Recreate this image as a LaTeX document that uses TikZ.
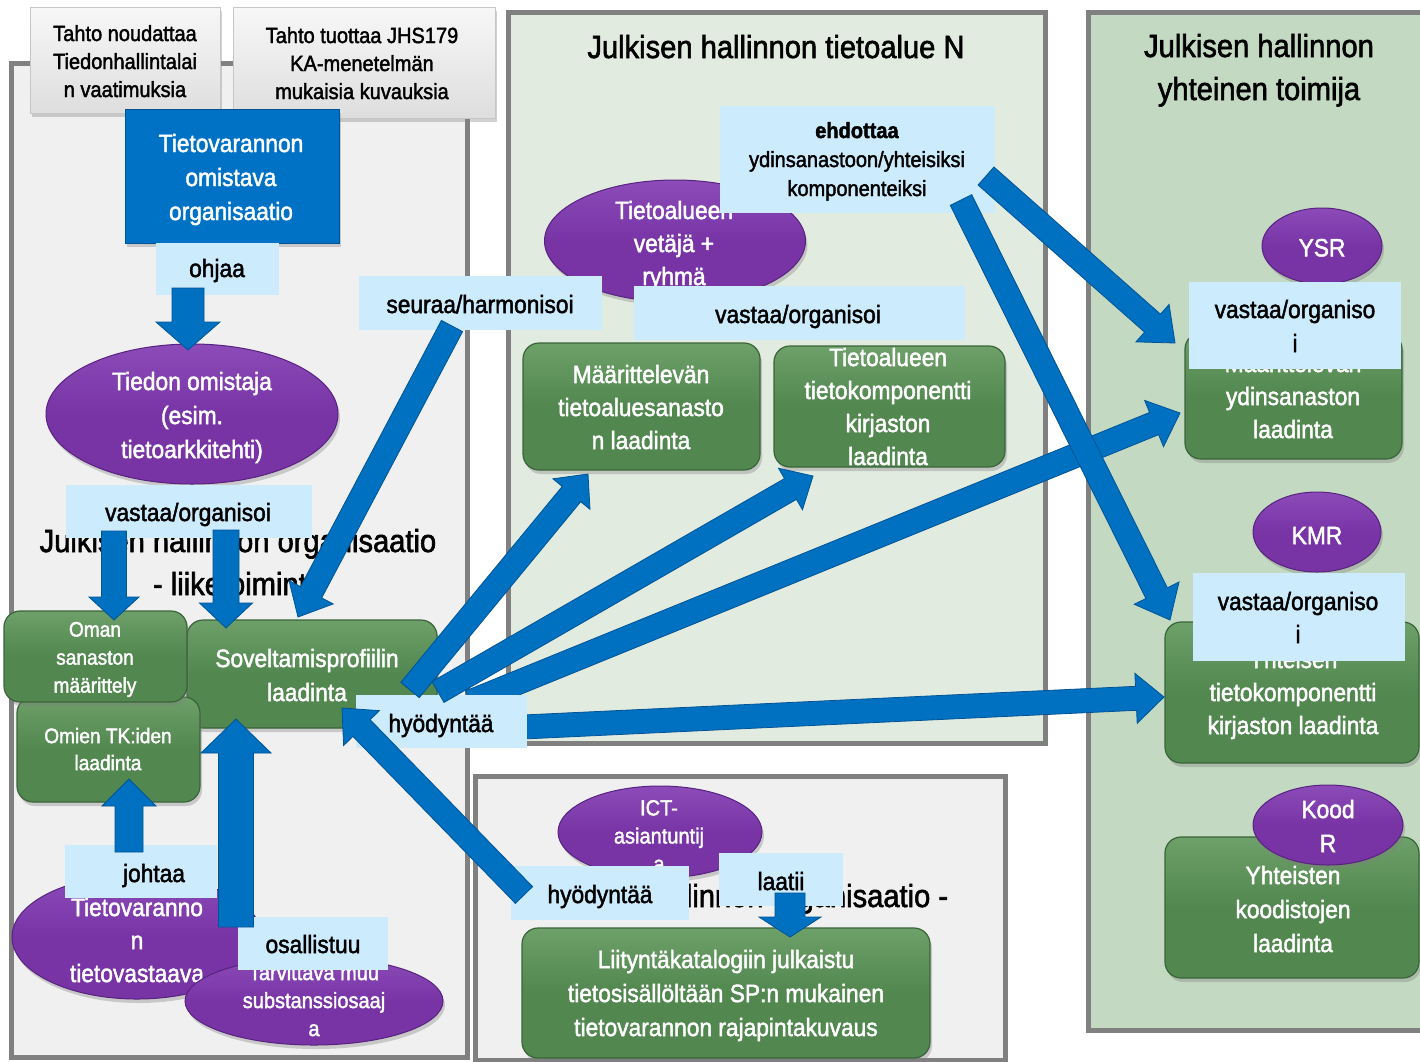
\documentclass[tikz,border=0pt]{standalone}
\usepackage{fontspec}
\setmainfont[FakeStretch=0.91, FakeBold=1.8]{Liberation Sans}
\usetikzlibrary{shapes.geometric,calc,shadows}
\definecolor{panelgray}{RGB}{240,240,240}
\definecolor{panelborder}{RGB}{128,128,128}
\definecolor{midgreen}{RGB}{226,235,224}
\definecolor{rightgreen}{RGB}{195,217,194}
\definecolor{boxgreen}{RGB}{82,135,80}
\definecolor{boxgreenlight}{RGB}{110,160,105}
\definecolor{boxgreendark}{RGB}{58,100,58}
\definecolor{purp}{RGB}{120,52,165}
\definecolor{purplight}{RGB}{140,75,185}
\definecolor{purpdark}{RGB}{88,34,128}
\definecolor{lblue}{RGB}{204,235,252}
\definecolor{arrblue}{RGB}{0,112,192}
\definecolor{arrdark}{RGB}{0,84,150}
\definecolor{orgblue}{RGB}{0,114,198}

\newcommand{\blkarrow}[5]{%
  \coordinate (#1-#2-n) at ($(#2)!#5!(#1)$);
  \filldraw[fill=arrblue, draw=arrdark, line width=0.8pt, line join=miter]
    ($(#1)!#3!90:(#2)$) -- ($(#1-#2-n)!#3!90:(#2)$) -- ($(#1-#2-n)!#4!90:(#2)$)
    -- (#2) -- ($(#1-#2-n)!#4!-90:(#2)$) -- ($(#1-#2-n)!#3!-90:(#2)$)
    -- ($(#1)!#3!-90:(#2)$) -- cycle;
}

\begin{document}
\begin{tikzpicture}[x=1pt,y=-1pt,
  panel/.style={draw=panelborder, line width=5pt},
  ttl/.style={font=\fontsize{32}{43}\selectfont, inner sep=0pt, text=black, anchor=base},
  txt/.style={align=center, inner sep=0pt, anchor=north},
  wt/.style={txt, text=white},
  kt/.style={txt, text=black},
  f25/.style={font=\fontsize{25}{34}\selectfont},
  f25s/.style={font=\fontsize{25}{33}\selectfont},
  f22/.style={font=\fontsize{22}{28}\selectfont},
  f22b/.style={font=\fontsize{22}{29}\selectfont},
  f21/.style={font=\fontsize{21}{28}\selectfont},
  f21s/.style={font=\fontsize{21}{27}\selectfont},
  shad/.style={drop shadow={shadow xshift=2pt, shadow yshift=-4pt, opacity=0.35}},
  gbox/.style={shad, draw=boxgreendark, line width=1.2pt, top color=boxgreenlight, bottom color=boxgreen, middle color=boxgreen, rounded corners=16pt, inner sep=0pt},
  pell/.style={shad, ellipse, draw=purpdark, line width=1pt, top color=purplight, bottom color=purp, middle color=purp, inner sep=0pt},
  lbl/.style={fill=lblue, inner sep=0pt},
  graybox/.style={shad, draw=gray!45, line width=0.8pt, top color=gray!6, bottom color=gray!26, inner sep=0pt},
  bluebox/.style={shad, draw=arrdark, line width=1pt, fill=orgblue, inner sep=0pt},
]
\useasboundingbox (0,0) rectangle (1420,1061);
\fill[white] (0,0) rectangle (1420,1061);

% panels
\draw[panel, fill=panelgray] (11,63) rectangle (467,1057);
\draw[panel, fill=midgreen] (508,12) rectangle (1045,743);
\draw[panel, fill=panelgray] (475,776) rectangle (1005,1060);
\draw[panel, fill=rightgreen] (1088,12) rectangle (1440,1030);

% titles
\node[ttl] (tN) at (776,58) {Julkisen hallinnon tietoalue N};
\node[ttl] (tR1) at (1259,57) {Julkisen hallinnon};
\node[ttl] (tR2) at (1259,100) {yhteinen toimija};
\node[ttl] (tL1) at (238,552) {Julkisen hallinnon organisaatio};
\node[ttl] (tL2) at (238,595) {- liiketoiminta};
\node[ttl] (tB1) at (741,907) {Julkisen hallinnon organisaatio -};

% top boxes
\node[graybox, minimum width=190, minimum height=106] (tahto1) at (125,60) {};
\node[kt,f22] (tahto1T) at (125,24.9) {Tahto noudattaa\\Tiedonhallintalai\\n vaatimuksia};
\node[graybox, minimum width=262, minimum height=111] (tahto2) at (364,62.5) {};
\node[kt,f22] (tahto2T) at (362,26.9) {Tahto tuottaa JHS179\\KA-menetelmän\\mukaisia kuvauksia};
\node[bluebox, minimum width=214, minimum height=134] (org) at (232,176) {};
\node[wt,f25] (orgT) at (231,133.7) {Tietovarannon\\omistava\\organisaatio};

% left panel shapes
\node[pell, minimum width=292, minimum height=140] (omist) at (192,414) {};
\node[wt,f25] (omistT) at (192,371.7) {Tiedon omistaja\\(esim.\\tietoarkkitehti)};
\node[gbox, minimum width=250, minimum height=108] (sovelt) at (312,674) {};
\node[wt,f25] (soveltT) at (307,648.7) {Soveltamisprofiilin\\laadinta};
\node[gbox, minimum width=183, minimum height=105] (omien) at (108.5,749.5) {};
\node[wt,f21s] (omienT) at (108,727.7) {Omien TK:iden\\laadinta};
\node[gbox, minimum width=183, minimum height=91] (oman) at (95.5,656.5) {};
\node[wt,f21] (omanT) at (95,621.7) {Oman\\sanaston\\määrittely};
\node[pell, minimum width=250, minimum height=124] (tvast) at (137,937) {};
\node[wt,f25s] (tvastT) at (137,897.7) {Tietovaranno\\n\\tietovastaava};
\node[pell, minimum width=258, minimum height=88] (subst) at (314,1001) {};
\node[wt,f22] (substT) at (314,963.9) {Tarvittava muu\\substanssiosaaj\\a};

% middle panel shapes
\node[pell, minimum width=261, minimum height=122] (vetaja) at (675,241) {};
\node[wt,f25s] (vetajaT) at (674,200.7) {Tietoalueen\\vetäjä +\\ryhmä};
\node[gbox, minimum width=237, minimum height=127] (maar) at (641.5,406.5) {};
\node[wt,f25s] (maarT) at (641,364.7) {Määrittelevän\\tietoaluesanasto\\n laadinta};
\node[gbox, minimum width=231, minimum height=121] (tietoal) at (889.5,406.5) {};
\node[wt,f25s] (tietoalT) at (888,347.7) {Tietoalueen\\tietokomponentti\\kirjaston\\laadinta};

% bottom middle shapes
\node[pell, minimum width=204, minimum height=92] (ict) at (660,832) {};
\node[wt,f22] (ictT) at (659,799.9) {ICT-\\asiantuntij\\a};
\node[gbox, minimum width=408, minimum height=130] (liit) at (726,993) {};
\node[wt,f25] (liitT) at (726,949.7) {Liityntäkatalogiin julkaistu\\tietosisällöltään SP:n mukainen\\tietovarannon rajapintakuvaus};

% right panel shapes
\node[pell, minimum width=120, minimum height=76] (ysr) at (1322,246) {};
\node[wt,f25] (ysrT) at (1322,238.7) {YSR};
\node[gbox, minimum width=217, minimum height=126] (ydin) at (1293.5,396) {};
\node[wt,f25s] (ydinT) at (1293,353.7) {Määrittelevän\\ydinsanaston\\laadinta};
\node[pell, minimum width=128, minimum height=80] (kmr) at (1317,532) {};
\node[wt,f25] (kmrT) at (1317,526.7) {KMR};
\node[gbox, minimum width=254, minimum height=141] (yht) at (1292,692.5) {};
\node[wt,f25s] (yhtT) at (1293,649.7) {Yhteisen\\tietokomponentti\\kirjaston laadinta};
\node[gbox, minimum width=254, minimum height=141] (koodisto) at (1292,907.5) {};
\node[wt,f25] (koodistoT) at (1293,865.7) {Yhteisten\\koodistojen\\laadinta};
\node[pell, minimum width=150, minimum height=80] (koodr) at (1328,825) {};
\node[wt,f25] (koodrT) at (1328,799.7) {Kood\\R};

% labels
\node[lbl, minimum width=123, minimum height=52] (ohjaa) at (217.5,269) {};
\node[kt,f25] (ohjaaT) at (217,258.7) {ohjaa};
\node[lbl, minimum width=243, minimum height=54] (seuraa) at (480.5,303) {};
\node[kt,f25] (seuraaT) at (480,294.7) {seuraa/harmonisoi};
\node[lbl, minimum width=246, minimum height=53] (vastaaL) at (189,511.5) {};
\node[kt,f25] (vastaaLT) at (188,502.7) {vastaa/organisoi};
\node[lbl, minimum width=152, minimum height=53] (johtaa) at (141,871.5) {};
\node[kt,f25] (johtaaT) at (154,863.7) {johtaa};
\node[lbl, minimum width=150, minimum height=53] (osall) at (313,943.5) {};
\node[kt,f25] (osallT) at (313,934.7) {osallistuu};
\node[lbl, minimum width=275, minimum height=107] (ehdott) at (857.5,159.5) {};
\node[kt,f22b] (ehdottT) at (857,121.9) {\textbf{ehdottaa}\\ydinsanastoon/yhteisiksi\\komponenteiksi};
\node[lbl, minimum width=331, minimum height=54] (vastaaM) at (799.5,313) {};
\node[kt,f25] (vastaaMT) at (798,304.7) {vastaa/organisoi};
\node[lbl, minimum width=212, minimum height=87] (vastaaR1) at (1295,325.5) {};
\node[kt,f25] (vastaaR1T) at (1295,299.7) {vastaa/organiso\\i};
\node[lbl, minimum width=212, minimum height=88] (vastaaR2) at (1299,617) {};
\node[kt,f25s] (vastaaR2T) at (1298,591.7) {vastaa/organiso\\i};
\node[lbl, minimum width=178, minimum height=54] (hyodL) at (600,893) {};
\node[kt,f25] (hyodLT) at (600,884.7) {hyödyntää};
\node[lbl, minimum width=124, minimum height=53] (laatii) at (781,879.5) {};
\node[kt,f25] (laatiiT) at (781,871.7) {laatii};

% arrow end points
\coordinate (oS) at (188,288);  \coordinate (oE) at (188,350);
\coordinate (v1S) at (114,531); \coordinate (v1E) at (114,620);
\coordinate (v2S) at (226,530); \coordinate (v2E) at (226,628);
\coordinate (sS) at (452,326);  \coordinate (sE) at (298,617);
\coordinate (jS) at (129,852);  \coordinate (jE) at (129,779);
\coordinate (osS) at (236,927); \coordinate (osE) at (236,719);
\coordinate (aS) at (410,690);  \coordinate (aE) at (588,474);
\coordinate (bS) at (438,692);  \coordinate (bE) at (813,476);
\coordinate (cS) at (470,702);  \coordinate (cE) at (1180,413);
\coordinate (dS) at (480,729);  \coordinate (dE) at (1164,697);
\coordinate (eS) at (524,895);  \coordinate (eE) at (342,708);
\coordinate (fS) at (986,176);  \coordinate (fE) at (1175,343);
\coordinate (gS) at (961,200);  \coordinate (gE) at (1170,620);
\coordinate (lS) at (790,893);  \coordinate (lE) at (790,937);

% arrows behind the upper hyodyntaa label
\blkarrow{cS}{cE}{12pt}{25pt}{28pt}
\blkarrow{dS}{dE}{12pt}{25pt}{28pt}

\node[lbl, minimum width=171, minimum height=53] (hyodU) at (441.5,721.5) {};
\node[kt,f25] (hyodUT) at (441,713.7) {hyödyntää};

% remaining arrows
\blkarrow{oS}{oE}{16pt}{32pt}{28pt}
\blkarrow{v1S}{v1E}{12.5pt}{25pt}{23pt}
\blkarrow{v2S}{v2E}{13pt}{26.5pt}{25pt}
\blkarrow{sS}{sE}{12pt}{25pt}{28pt}
\blkarrow{jS}{jE}{14pt}{27pt}{27pt}
\blkarrow{osS}{osE}{17.5pt}{35pt}{34pt}
\blkarrow{aS}{aE}{12pt}{24pt}{26pt}
\blkarrow{bS}{bE}{12pt}{24pt}{26pt}
\blkarrow{eS}{eE}{12pt}{25pt}{28pt}
\blkarrow{fS}{fE}{12pt}{25pt}{30pt}
\blkarrow{gS}{gE}{12pt}{25pt}{30pt}
\blkarrow{lS}{lE}{15pt}{31pt}{20pt}
\end{tikzpicture}
\end{document}
